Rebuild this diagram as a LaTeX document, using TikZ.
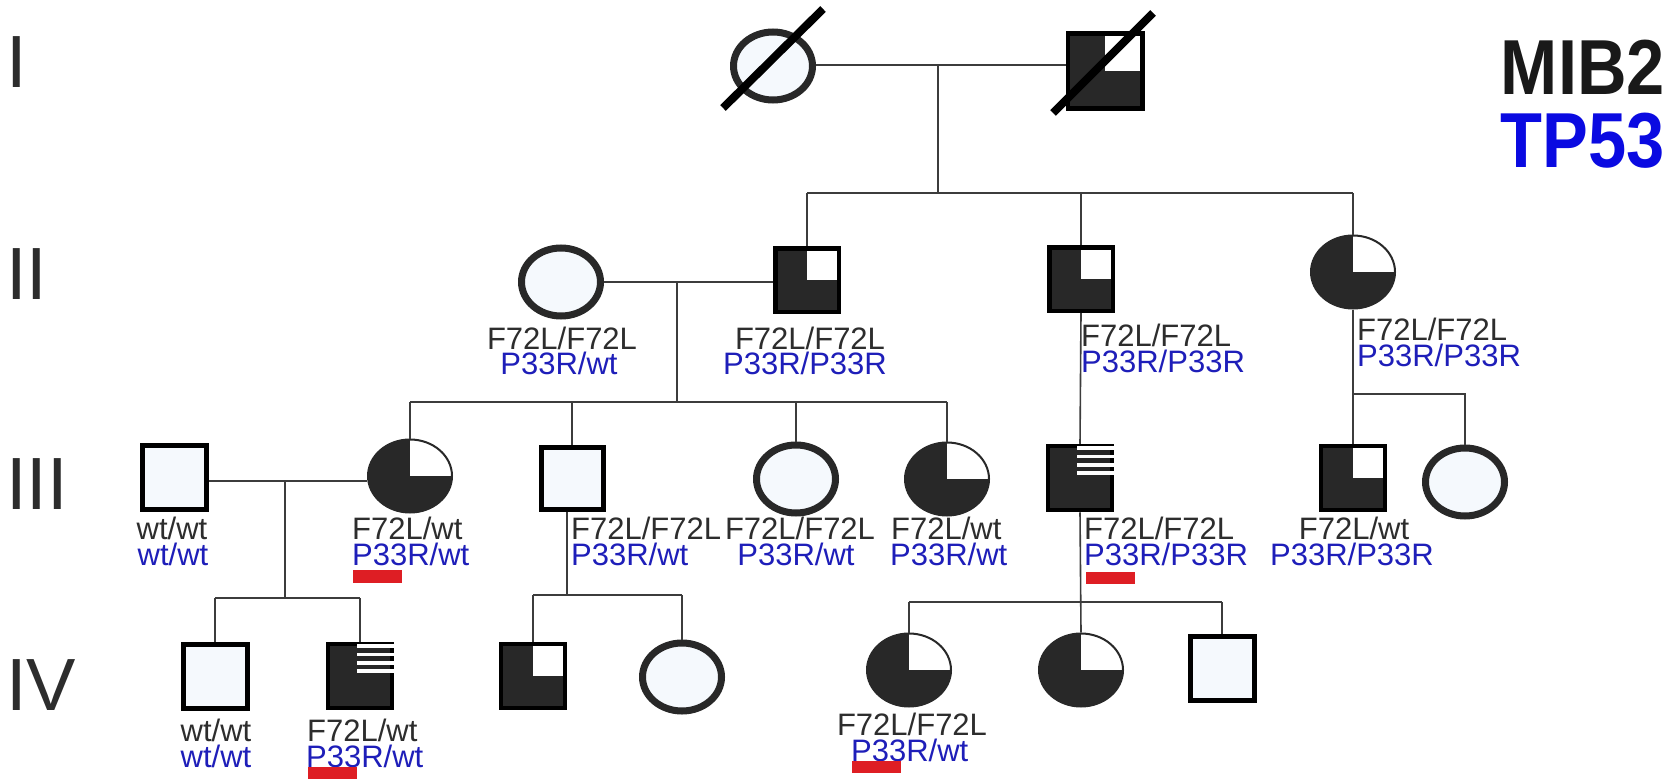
\documentclass[tikz,border=0pt]{standalone}
\usepackage{fontspec}
\usepackage{graphicx}
\setmainfont{Liberation Sans}
\usetikzlibrary{calc,shapes.geometric}

\definecolor{inkdark}{RGB}{40,40,40}
\definecolor{lightfill}{RGB}{245,249,253}
\definecolor{linkgray}{RGB}{60,60,60}
\definecolor{gtgray}{RGB}{45,45,45}
\definecolor{gtblue}{RGB}{30,30,185}
\definecolor{tpblue}{RGB}{10,10,225}
\definecolor{markred}{RGB}{222,30,36}

\begin{document}
\begin{tikzpicture}[x=1bp,y=-1bp,
  link/.style={draw=linkgray,line width=1.6bp},
  quarter/.style={path picture={\fill[white] (path picture bounding box.center) rectangle (path picture bounding box.north east);}},
  opencirc/.style={ellipse,draw=inkdark,line width=7bp,fill=lightfill,minimum width=79bp,minimum height=68bp,inner sep=0pt},
  affcirc/.style={ellipse,draw=inkdark,line width=2bp,fill=inkdark,minimum width=84bp,minimum height=73bp,inner sep=0pt,quarter},
  opensq/.style={rectangle,draw=black,line width=5bp,fill=lightfill,minimum size=64bp,inner sep=0pt},
  affsq/.style={rectangle,draw=black,line width=4.5bp,fill=inkdark,minimum size=64bp,inner sep=0pt,quarter},
  stripesq/.style={rectangle,draw=black,line width=4.5bp,fill=inkdark,minimum size=64bp,inner sep=0pt},
  gt/.style={inner sep=0pt,font=\fontsize{31bp}{31bp}\selectfont,text height=22bp,text depth=0bp,text=gtgray},
  gb/.style={gt,text=gtblue},
  gen/.style={anchor=west,inner sep=0pt,font=\fontsize{74bp}{74bp}\selectfont,text height=53bp,text depth=0bp,text=gtgray},
  ttl/.style={anchor=east,inner sep=0pt,font=\fontsize{78bp}{78bp}\selectfont\bfseries,text height=56bp,text depth=0bp},
  redbar/.style={fill=markred},
  deceased/.style={draw=black,line width=8bp}
]
\fill[white] (0,0) rectangle (1665,779);
\useasboundingbox (0,0) rectangle (1665,779);

% generation numerals
\node[gen] (gI)   at (6,61)  {I};
\node[gen] (gII)  at (6,273) {II};
\node[gen] (gIII) at (6,483) {III};
\node[gen] (gIV)  at (6,684) {IV};

% gene legend
\node[ttl,text=black!90] (mib) at (1665,66) {\scalebox{0.88}[1]{MIB2}};
\node[ttl,text=tpblue] (tp)  at (1665,139) {\scalebox{0.88}[1]{TP53}};

% ---------------- generation I
\node[opencirc] (I1) at (773,66) {};
\node[affsq,minimum size=74.5bp] (I2) at (1105,71) {};
\draw[deceased] (723,108) -- (823,9);
\draw[deceased] (1053,113) -- (1153,13);

% ---------------- generation II
\node[opencirc] (II1) at (561,282) {};
\node[affsq,minimum size=63.5bp] (II2) at (807,280) {};
\node[affsq,minimum size=63.5bp] (II3) at (1081,279) {};
\node[affcirc] (II4) at (1353,272) {};

% ---------------- generation III
\node[opensq] (III1) at (174,477) {};
\node[affcirc] (III2) at (410,476) {};
\node[opensq,minimum size=62bp] (III3) at (572,478) {};
\node[opencirc] (III4) at (796,479) {};
\node[affcirc] (III5) at (947,479) {};
\node[stripesq] (III6) at (1080,478) {};
\node[affsq] (III7) at (1353,478) {};
\node[opencirc] (III8) at (1465,482) {};

% ---------------- generation IV
\node[opensq] (IV1) at (215,676) {};
\node[stripesq] (IV2) at (360,676) {};
\node[affsq] (IV3) at (533,676) {};
\node[opencirc] (IV4) at (682,677) {};
\node[affcirc] (IV5) at (909,670) {};
\node[affcirc] (IV6) at (1081,670) {};
\node[opensq] (IV7) at (1222,668) {};

% striped quarters
\foreach \sq in {III6,IV2}{
  \foreach \a/\b in {2.5/6,11/14.5,19.5/23,27.5/31}{
    \fill[white] ([xshift=-3bp,yshift=-\a bp]\sq.north) rectangle ([yshift=-\b bp]\sq.north east);
  }
}

% ---------------- lines of descent
\coordinate (m1) at (938,65);
\coordinate (s1) at (938,193);
\draw[link] (m1 -| I1.east) -- (m1 -| I2.west);
\draw[link] (m1) -- (s1);
\draw[link] (II2.north |- s1) -- (II4.north |- s1);
\foreach \n in {II2,II3,II4} \draw[link] (\n.north |- s1) -- (\n.north);

\coordinate (m2) at (677,282);
\coordinate (s2) at (677,402);
\draw[link] (m2 -| II1.east) -- (m2 -| II2.west);
\draw[link] (m2) -- (s2);
\draw[link] (III2.north |- s2) -- (III5.north |- s2);
\foreach \n in {III2,III3,III4,III5} \draw[link] (\n.north |- s2) -- (\n.north);

\draw[link] (II3.south) -- (III6.north);

\coordinate (s4) at (1353,394);
\draw[link] (II4.south) -- (III7.north);
\draw[link] (s4) -- (s4 -| III8.north) -- (III8.north);

\coordinate (m3) at (285,481);
\coordinate (s3) at (285,598);
\draw[link] (m3 -| III1.east) -- (m3 -| III2.west);
\draw[link] (m3) -- (s3);
\draw[link] (IV1.north |- s3) -- (IV2.north |- s3);
\foreach \n in {IV1,IV2} \draw[link] (\n.north |- s3) -- (\n.north);

\coordinate (d3) at (567,595);
\draw[link] (d3 |- III3.south) -- (d3);
\draw[link] (IV3.north |- d3) -- (IV4.north |- d3);
\foreach \n in {IV3,IV4} \draw[link] (\n.north |- d3) -- (\n.north);

\coordinate (s6) at (1081,602);
\draw[link] (III6.south) -- (IV6.north);
\draw[link] (IV5.north |- s6) -- (IV7.north |- s6);
\foreach \n in {IV5,IV7} \draw[link] (\n.north |- s6) -- (\n.north);

% ---------------- genotypes (MIB2 grey, TP53 blue)
\node[gt] (II1a) at (562,338) {F72L/F72L};
\node[gb] (II1b) at (559,363) {P33R/wt};
\node[gt] (II2a) at (810,338) {F72L/F72L};
\node[gb] (II2b) at (805,363) {P33R/P33R};
\node[gt,anchor=west] (II3a) at (1081,335) {F72L/F72L};
\node[gb,anchor=west] (II3b) at (1081,361) {P33R/P33R};
\node[gt,anchor=west] (II4a) at (1357,329) {F72L/F72L};
\node[gb,anchor=west] (II4b) at (1357,355) {P33R/P33R};

\node[gt] (III1a) at (172,528) {wt/wt};
\node[gb] (III1b) at (173,554) {wt/wt};
\node[gt,anchor=west] (III2a) at (352,528) {F72L/wt};
\node[gb,anchor=west] (III2b) at (352,554) {P33R/wt};
\node[gt,anchor=west] (III3a) at (571,528) {F72L/F72L};
\node[gb,anchor=west] (III3b) at (571,554) {P33R/wt};
\node[gt] (III4a) at (800,528) {F72L/F72L};
\node[gb] (III4b) at (796,554) {P33R/wt};
\node[gt,anchor=west] (III5a) at (891,528) {F72L/wt};
\node[gb,anchor=west] (III5b) at (890,554) {P33R/wt};
\node[gt,anchor=west] (III6a) at (1084,528) {F72L/F72L};
\node[gb,anchor=west] (III6b) at (1084,554) {P33R/P33R};
\node[gt] (III7a) at (1354,528) {F72L/wt};
\node[gb] (III7b) at (1352,554) {P33R/P33R};

\node[gt] (IV1a) at (216,730) {wt/wt};
\node[gb] (IV1b) at (216,756) {wt/wt};
\node[gt,anchor=west] (IV2a) at (307,730) {F72L/wt};
\node[gb,anchor=west] (IV2b) at (306,756) {P33R/wt};
\node[gt] (IV5a) at (912,724) {F72L/F72L};
\node[gb,anchor=west] (IV5b) at (851,750) {P33R/wt};

% marked carriers
\fill[redbar] (353,570) rectangle (402,583);
\fill[redbar] (1086,572) rectangle (1135,584);
\fill[redbar] (308,767) rectangle (357,779);
\fill[redbar] (852,761) rectangle (901,773);
\end{tikzpicture}
\end{document}
